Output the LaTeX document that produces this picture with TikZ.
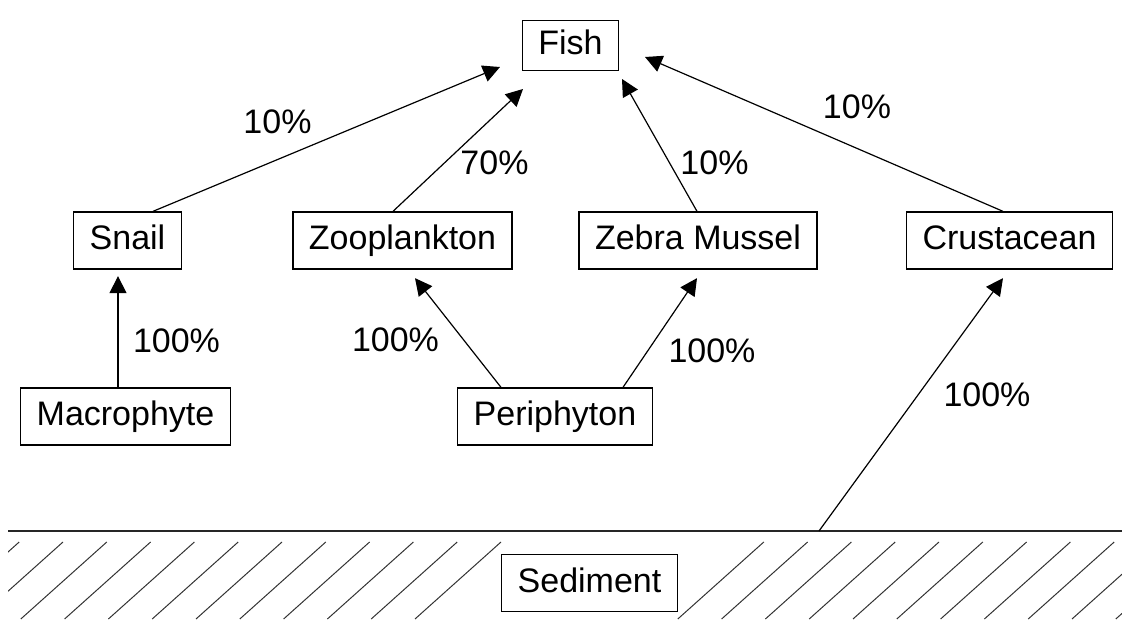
\documentclass[tikz,border=0pt]{standalone}
\usepackage{fontspec}
\setmainfont{Liberation Sans}
\usepackage{tikz}
\usetikzlibrary{arrows.meta}

\newcommand{\boxfont}{\fontsize{34}{40}\selectfont}

\begin{document}
\begin{tikzpicture}[node distance=176pt, x=1pt, y=1pt]
\tikzstyle{box} = [rectangle, minimum height=57pt, inner xsep=16pt, inner ysep=0pt, text height=25pt, text depth=7pt, text centered, draw=black, line width=1.3pt, fill=white, font=\boxfont]
\tikzstyle{pct} = [inner sep=0pt, anchor=base, font=\boxfont]
\tikzstyle{arrow} = [line width=1.2pt, -{Triangle[length=17pt,width=17pt]}]
\tikzstyle{hatch} = [line width=1pt, draw=black!80]

\useasboundingbox (0,0) rectangle (1122,619);

% sediment ground
\begin{scope}
\clip (8,0) rectangle (1122,80);
\foreach \k in {-1,...,26}{
  \ifnum\k<11 \draw [hatch] (63+43.8*\k-86,0) -- (63+43.8*\k,77); \fi
  \ifnum\k>15 \draw [hatch] (63+43.8*\k-86,0) -- (63+43.8*\k,77); \fi
}
\end{scope}
\coordinate (sl) at (8,88);
\coordinate (sr) at (1122,88);
\coordinate (sedtop) at (819,88);
\draw [line width=1.5pt, black!85] (sl) -- (sr);

\node (macro) [box] at (125.5,202.5) {Macrophyte};
\node (snail) [box,above of=macro,xshift=2pt] {Snail};
\node (zoo) [box,right of=snail,xshift=99pt] {Zooplankton};
\node (zebra) [box,right of=zoo,xshift=119.5pt] {Zebra Mussel};
\node (crust) [box,right of=zebra,xshift=135.5pt] {Crustacean};
\node (peri) [box,below of=zoo,xshift=152.5pt] {Periphyton};
\node (fish) [box,above of=zoo,xshift=168pt,yshift=19pt,minimum height=50pt] {Fish};
\node (sed) [box,below of=peri,xshift=34.5pt,yshift=9.5pt] {Sediment};

\node (psnail) [pct] at (277.5,485) {10\%};
\node (pzoo) [pct] at (494.5,444) {70\%};
\node (pzebra) [pct] at (714.5,444) {10\%};
\node (pcrust) [pct] at (857,500) {10\%};
\node (pmacro) [pct] at (176.5,266) {100\%};
\node (pperiz) [pct] at (395.5,267) {100\%};
\node (pperie) [pct] at (712,256) {100\%};
\node (psed) [pct] at (987,212) {100\%};

\draw [arrow] ([xshift=25.5pt]snail.north) -- ([xshift=-70.5pt,yshift=-21.5pt]fish.center);
\draw [arrow] ([xshift=-9.5pt]zoo.north) -- ([xshift=-47.5pt,yshift=-43.5pt]fish.center);
\draw [arrow] ([xshift=-1pt]zebra.north) -- ([xshift=51.5pt,yshift=-33.5pt]fish.center);
\draw [arrow] ([xshift=-6.5pt]crust.north) -- ([xshift=74.5pt,yshift=-11.5pt]fish.center);

\draw [arrow] ([xshift=-7.5pt]macro.north) -- ([xshift=-9.5pt,yshift=-6.5pt]snail.south);
\draw [arrow] ([xshift=-54pt]peri.north) -- ([xshift=12.5pt,yshift=-8.5pt]zoo.south);
\draw [arrow] ([xshift=68pt]peri.north) -- ([xshift=-1pt,yshift=-8.5pt]zebra.south);
\draw [arrow] (sedtop) -- ([xshift=-6.5pt,yshift=-8.5pt]crust.south);

\end{tikzpicture}
\end{document}
